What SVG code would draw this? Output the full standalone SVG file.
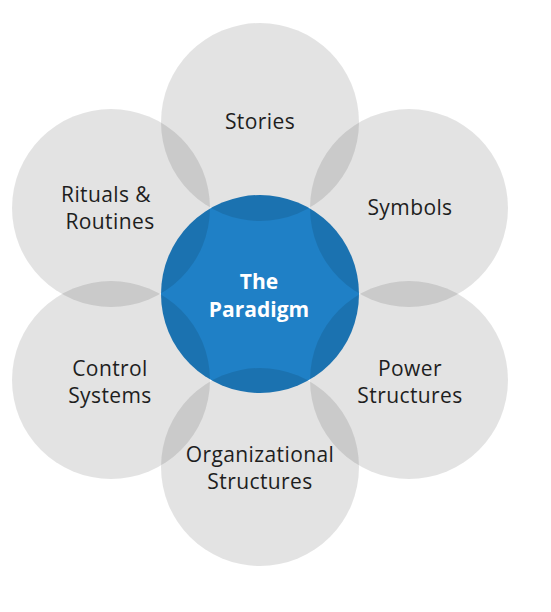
<svg xmlns="http://www.w3.org/2000/svg" width="551" height="612" viewBox="0 0 551 612">
<style>
.outer{fill:#000;fill-opacity:0.11}
.lbl{font-family:"Open Sans","Liberation Sans",sans-serif;font-size:21px;letter-spacing:0.4px;fill:#1e1e1e;text-anchor:middle}
.ctr{font-family:"Open Sans","Liberation Sans",sans-serif;font-size:21px;font-weight:bold;fill:#fff;text-anchor:middle}
</style>
<rect width="551" height="612" fill="#fff"/>
<g id="paradigm">
<circle cx="260" cy="294" r="99" fill="#1f80c6"/>
</g>
<g id="stories">
<circle class="outer" cx="260" cy="122" r="99"/>
<text class="lbl" x="260" y="129">Stories</text>
</g>
<g id="symbols">
<circle class="outer" cx="409" cy="208" r="99"/>
<text class="lbl" x="410" y="215">Symbols</text>
</g>
<g id="power-structures">
<circle class="outer" cx="409" cy="380" r="99"/>
<text class="lbl" x="410" y="376">Power</text>
<text class="lbl" x="410" y="403">Structures</text>
</g>
<g id="organizational-structures">
<circle class="outer" cx="260" cy="467" r="99"/>
<text class="lbl" x="260" y="462">Organizational</text>
<text class="lbl" x="260" y="489">Structures</text>
</g>
<g id="control-systems">
<circle class="outer" cx="111" cy="380" r="99"/>
<text class="lbl" x="110" y="376">Control</text>
<text class="lbl" x="110" y="403">Systems</text>
</g>
<g id="rituals-routines">
<circle class="outer" cx="111" cy="208" r="99"/>
<text class="lbl" x="106" y="202">Rituals &amp;</text>
<text class="lbl" x="110" y="229">Routines</text>
</g>
<g id="paradigm-label">
<text class="ctr" x="259" y="289">The</text>
<text class="ctr" x="259" y="317">Paradigm</text>
</g>
<g id="connectors"/>
</svg>
